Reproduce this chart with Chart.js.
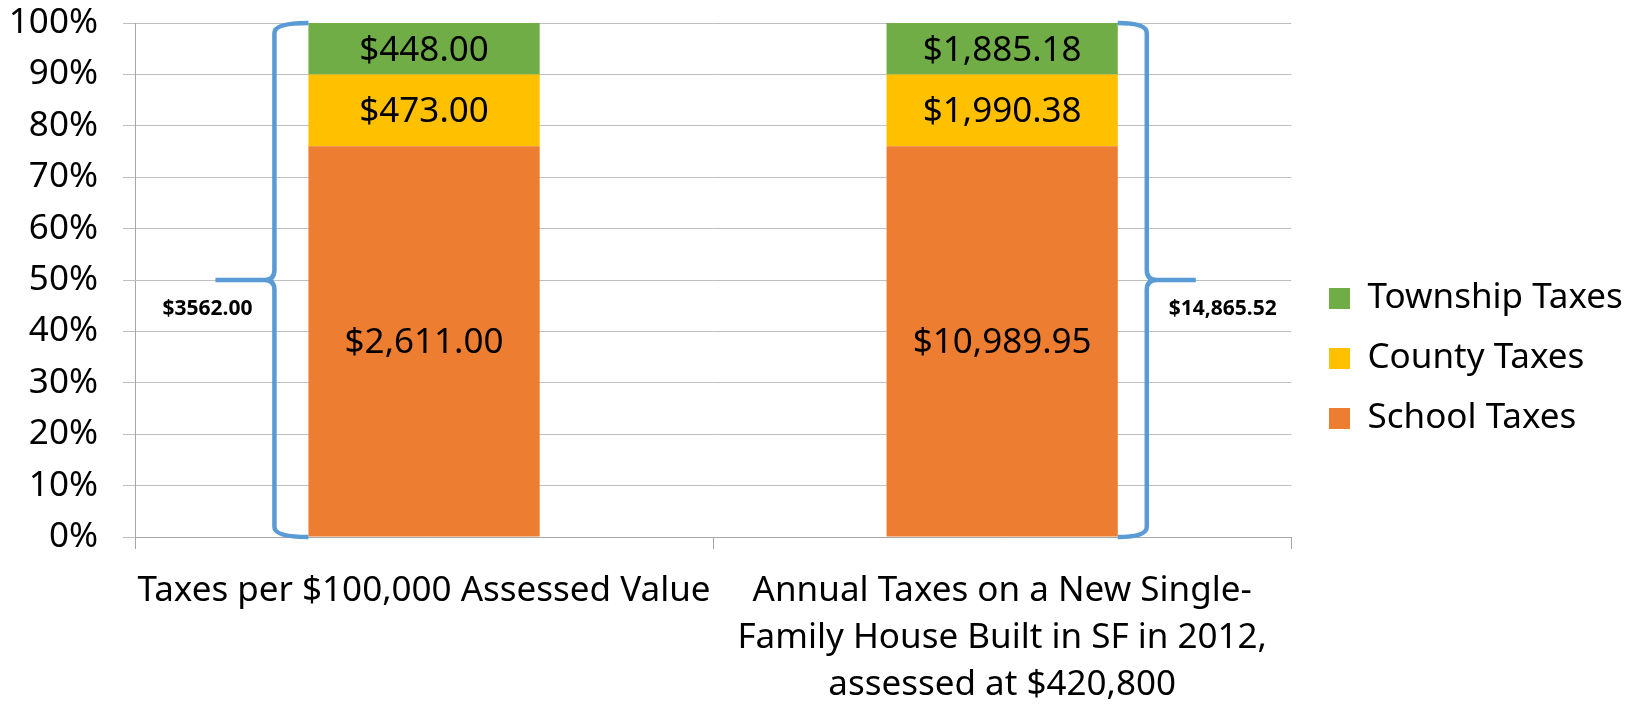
<!DOCTYPE html>
<html>
<head>
<meta charset="utf-8">
<script src="https://cdn.jsdelivr.net/npm/chart.js@4/dist/chart.umd.min.js"></script>
<style>
  html, body { margin: 0; padding: 0; background: #fff; }
  #wrap { width: 1633px; height: 705px; position: relative; }
</style>
</head>
<body>
<div id="wrap"><canvas id="c"></canvas></div>
<script>
/* ── 데이터 ─────────────────────────────────────────────── */
var categories = [
  'Taxes per $100,000 Assessed Value',
  ['Annual Taxes on a New Single-', 'Family House Built in SF in 2012,', 'assessed at $420,800']
];
var seriesNames  = ['School Taxes', 'County Taxes', 'Township Taxes'];
var seriesColors = ['#ED7D31', '#FFC000', '#70AD47'];

// 100% 누적 비율
var schoolPct   = [76, 76];
var countyPct   = [14, 14];
var townshipPct = [10, 10];

// 막대 안 금액 라벨
var schoolLbl   = ['$2,611.00', '$10,989.95'];
var countyLbl   = ['$473.00', '$1,990.38'];
var townshipLbl = ['$448.00', '$1,885.18'];

// 중괄호 합계
var totals = ['$3562.00', '$14,865.52'];

var yTicks = [0, 10, 20, 30, 40, 50, 60, 70, 80, 90, 100];

var FONT = "'Noto Sans', sans-serif";
Chart.defaults.font.family = FONT;
Chart.defaults.color = '#000';

var labelSets = [schoolLbl, countyLbl, townshipLbl];

/* ── 막대 안 라벨 ───────────────────────────────────────── */
var barLabels = {
  id: 'barLabels',
  afterDatasetsDraw: function(chart) {
    var ctx = chart.ctx;
    ctx.save();
    ctx.font = '35px ' + FONT;
    ctx.fillStyle = '#000';
    ctx.textAlign = 'center';
    ctx.textBaseline = 'middle';
    chart.data.datasets.forEach(function(ds, i) {
      chart.getDatasetMeta(i).data.forEach(function(bar, j) {
        var p = bar.getProps(['x', 'y', 'base'], true);
        ctx.fillText(labelSets[i][j], p.x, (p.y + p.base) / 2 + 2);
      });
    });
    ctx.restore();
  }
};

/* ── 중괄호 ─────────────────────────────────────────────── */
var braces = {
  id: 'braces',
  afterDatasetsDraw: function(chart) {
    var ctx = chart.ctx;
    var ys = chart.scales.y;
    var yTop = ys.getPixelForValue(100), yBot = ys.getPixelForValue(0), yMid = ys.getPixelForValue(50);
    var meta = chart.getDatasetMeta(0);
    var specs = [
      { bar: meta.data[0], dir: -1, off: 34, tip: 59, lx: -8 },
      { bar: meta.data[1], dir:  1, off: 29, tip: 49, lx: 27 }
    ];
    ctx.save();
    ctx.strokeStyle = '#5B9BD5';
    ctx.lineWidth = 4.5;
    specs.forEach(function(s, k) {
      var p = s.bar.getProps(['x', 'width'], true);
      var x0 = p.x + s.dir * p.width / 2;
      var xv = x0 + s.dir * s.off;
      var xt = xv + s.dir * s.tip;
      var r = 10;
      ctx.beginPath();
      ctx.moveTo(x0, yTop);
      ctx.quadraticCurveTo(xv, yTop, xv, yTop + r);
      ctx.lineTo(xv, yMid - r);
      ctx.quadraticCurveTo(xv, yMid, xv + s.dir * r, yMid);
      ctx.lineTo(xt, yMid);
      ctx.moveTo(xv + s.dir * r, yMid);
      ctx.quadraticCurveTo(xv, yMid, xv, yMid + r);
      ctx.lineTo(xv, yBot - r);
      ctx.quadraticCurveTo(xv, yBot, x0, yBot);
      ctx.stroke();

      ctx.font = 'bold 21px ' + FONT;
      ctx.fillStyle = '#000';
      ctx.textAlign = 'center';
      ctx.textBaseline = 'middle';
      ctx.fillText(totals[k], xt + s.lx, yMid + 29);
    });
    ctx.restore();
  }
};

/* ── 범례 위치 보정 ─────────────────────────────────────── */
var legendShift = {
  id: 'legendShift',
  afterLayout: function(chart) {
    var lg = chart.legend;
    if (!lg) return;
    var dx = 1329 - 25 - lg.left;
    lg.left += dx; lg.right += dx;
    lg.top += 6; lg.bottom += 6;
  }
};

new Chart(document.getElementById('c'), {
  type: 'bar',
  data: {
    labels: categories,
    datasets: [
      { label: seriesNames[0], data: schoolPct,   backgroundColor: seriesColors[0] },
      { label: seriesNames[1], data: countyPct,   backgroundColor: seriesColors[1] },
      { label: seriesNames[2], data: townshipPct, backgroundColor: seriesColors[2] }
    ]
  },
  options: {
    responsive: true, maintainAspectRatio: false, animation: false,
    datasets: { bar: { categoryPercentage: 1, barPercentage: 0.4 } },
    layout: { padding: { left: 0, top: 0, right: 13, bottom: 0 } },
    plugins: {
      legend: {
        position: 'right', reverse: true,
        labels: { boxWidth: 21, boxHeight: 21, padding: 25, font: { size: 35 }, color: '#000' }
      },
      tooltip: { enabled: false }
    },
    scales: {
      x: {
        stacked: true,
        afterFit: function(s) { s.height = 168; s.paddingLeft = 0; s.paddingRight = 0; },
        grid: { drawOnChartArea: false, drawTicks: true, tickLength: 12, color: '#A6A6A6' },
        border: { color: '#A6A6A6' },
        ticks: { font: { size: 35, lineHeight: 1.34 }, padding: 19, maxRotation: 0, autoSkip: false, color: '#000' }
      },
      y: {
        stacked: true, min: 0, max: 100,
        afterBuildTicks: function(s) { s.ticks = yTicks.map(function(v) { return { value: v }; }); },
        afterFit: function(s) { s.width = 135; s.paddingTop = 23; },
        grid: { color: '#BFBFBF', tickLength: 12 },
        border: { color: '#A6A6A6' },
        ticks: { font: { size: 35 }, padding: 25, color: '#000', callback: function(v) { return v + '%'; } }
      }
    }
  },
  plugins: [barLabels, braces, legendShift]
});
</script>
</body>
</html>
